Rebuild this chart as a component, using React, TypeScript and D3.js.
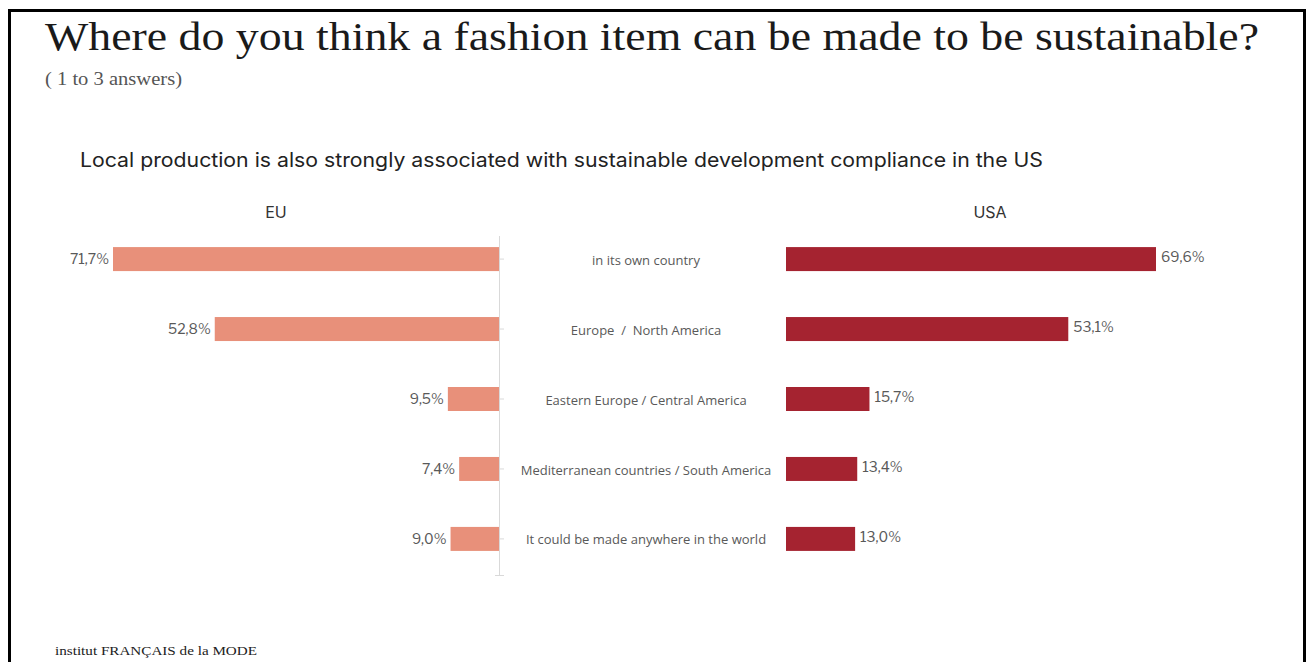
import React from "react";
import * as d3 from "d3";

const categories = [
  "in its own country",
  "Europe  /  North America",
  "Eastern Europe / Central America",
  "Mediterranean countries / South America",
  "It could be made anywhere in the world",
];
const euValues = [71.7, 52.8, 9.5, 7.4, 9.0];
const usaValues = [69.6, 53.1, 15.7, 13.4, 13.0];
const seriesNames = ["EU", "USA"];

const fmt = (v: number) => v.toFixed(1).replace(".", ",") + "%";

export default function App() {
  const W = 1311;
  const H = 662;
  const y = d3
    .scaleBand<string>()
    .domain(categories)
    .range([224, 574])
    .paddingInner(0.657)
    .paddingOuter(0.33);
  const xEu = d3.scaleLinear().domain([0, 71.7]).range([499, 113]);
  const xUsa = d3.scaleLinear().domain([0, 69.6]).range([786, 1156]);
  const bw = y.bandwidth();
  const labelFont = "'Libre Franklin', 'Open Sans', sans-serif";
  const catFont = "'Open Sans', 'Noto Sans', sans-serif";

  return (
    <svg
      width={W}
      height={H}
      style={{ position: "absolute", left: 0, top: 0, background: "#fff" }}
    >
      <rect x={0} y={0} width={W} height={H} fill="#fff" />
      <rect x={9.5} y={10.5} width={1295} height={700} fill="none" stroke="#000" strokeWidth={3} />
      <text x={45} y={50} fontFamily="'Liberation Serif', serif" fontSize={40} fill="#1a1a1a" textLength={1214} lengthAdjust="spacingAndGlyphs">
        Where do you think a fashion item can be made to be sustainable?
      </text>
      <text x={45} y={85} fontFamily="'Liberation Serif', serif" fontSize={18} fill="#555" textLength={137} lengthAdjust="spacingAndGlyphs">
        ( 1 to 3 answers)
      </text>
      <text x={80} y={167} fontFamily="Inter, Roboto, sans-serif" fontSize={19.5} fill="#222" textLength={963} lengthAdjust="spacingAndGlyphs">
        Local production is also strongly associated with sustainable development compliance in the US
      </text>
      <text x={276} y={218} textAnchor="middle" fontFamily="Inter, Roboto, sans-serif" fontSize={16} fill="#333">
        {seriesNames[0]}
      </text>
      <text x={990} y={218} textAnchor="middle" fontFamily="Inter, Roboto, sans-serif" fontSize={16} fill="#333">
        {seriesNames[1]}
      </text>

      {/* axis */}
      <line x1={499.5} x2={499.5} y1={236} y2={576} stroke="#d9d9d9" strokeWidth={1} />
      {categories.map((c) => (
        <line key={"t" + c} x1={499} x2={504} y1={(y(c) as number) + bw / 2} y2={(y(c) as number) + bw / 2} stroke="#d9d9d9" />
      ))}
      <line x1={495} x2={504} y1={575.5} y2={575.5} stroke="#d9d9d9" />

      {categories.map((c, i) => {
        const yy = y(c) as number;
        const cy = yy + bw / 2;
        return (
          <g key={c}>
            <rect x={xEu(euValues[i])} y={yy} width={xEu(0) - xEu(euValues[i])} height={bw} fill="#E8907A" />
            <text x={xEu(euValues[i]) - 4} y={cy} dy="0.35em" textAnchor="end" fontFamily={labelFont} fontSize={14} fill="#595959">
              {fmt(euValues[i])}
            </text>
            <text x={646} y={cy + 1} dy="0.35em" textAnchor="middle" fontFamily={catFont} fontSize={13} fill="#595959" style={{ whiteSpace: "pre" }}>
              {c}
            </text>
            <rect x={xUsa(0)} y={yy} width={xUsa(usaValues[i]) - xUsa(0)} height={bw} fill="#A52330" />
            <text x={xUsa(usaValues[i]) + 5} y={cy - 2} dy="0.35em" textAnchor="start" fontFamily={labelFont} fontSize={14} fill="#595959">
              {fmt(usaValues[i])}
            </text>
          </g>
        );
      })}

      <text x={55} y={655} fontFamily="'Liberation Serif', serif" fontSize={13.5} fill="#222" textLength={202} lengthAdjust="spacingAndGlyphs">
        institut FRANÇAIS de la MODE
      </text>
    </svg>
  );
}
